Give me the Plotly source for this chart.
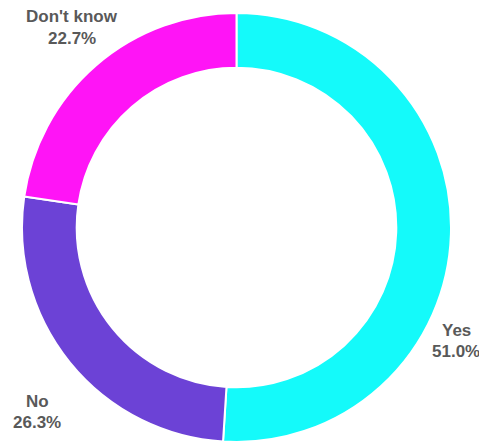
import plotly.graph_objects as go

# Survey answers
answers = ["Yes", "No", "Don't know"]
shares = [51.0, 26.3, 22.7]
colors = ["#14fafa", "#6c42d6", "#ff14f6"]

W, H = 479, 442

# label block centres in pixels (x, y of first line)
label_pos = {"Yes": (456, 330), "No": (37, 401), "Don't know": (72, 17)}
line_gap = 21

fig = go.Figure(go.Pie(
    labels=answers,
    values=shares,
    hole=0.745,
    sort=False,
    direction="clockwise",
    rotation=0,
    marker=dict(colors=colors, line=dict(color="white", width=2)),
    textinfo="none",
    hoverinfo="label+percent",
    domain=dict(x=[22 / W, 451 / W], y=[0, 1 - 13 / H]),
    showlegend=False,
))

font = dict(family="Liberation Sans Narrow, Arial Narrow, Liberation Sans, Arial, sans-serif",
            size=17, color="#595959")
annotations = []
for name, val in zip(answers, shares):
    px_, py_ = label_pos[name]
    for i, txt in enumerate([f"<b>{name}</b>", f"<b>{val:.1f}%</b>"]):
        annotations.append(dict(
            x=px_ / W, y=1 - (py_ + i * line_gap) / H,
            xref="paper", yref="paper",
            text=txt, showarrow=False, font=font,
            xanchor="center", yanchor="middle",
        ))

fig.update_layout(
    width=W, height=H,
    margin=dict(l=0, r=0, t=0, b=0),
    paper_bgcolor="white",
    plot_bgcolor="white",
    annotations=annotations,
)

# drop the default page margin so the figure sits at the window corner
fig.write_html("out.html", config={"displayModeBar": False},
               post_script="document.body.style.margin='0';")
